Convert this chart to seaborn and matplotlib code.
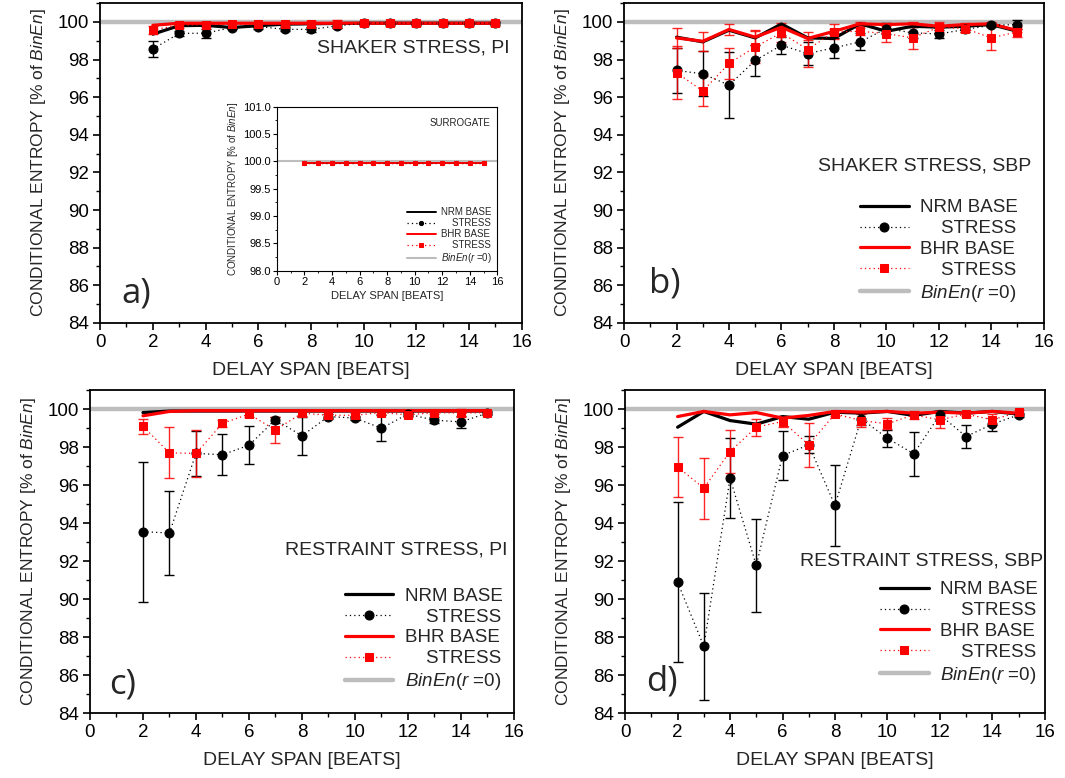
import matplotlib
matplotlib.use("Agg")
import matplotlib.pyplot as plt
import seaborn as sns
import pandas as pd
from matplotlib.ticker import MultipleLocator, FormatStrFormatter

# ---------------- data ----------------
delay = [2, 3, 4, 5, 6, 7, 8, 9, 10, 11, 12, 13, 14, 15]

# a) shaker stress, PI
a_nrm_base = [99.35, 99.8, 99.82, 99.7, 99.8, 99.88, 99.9, 99.92, 99.93, 99.93, 99.93, 99.93, 99.93, 99.93]
a_nrm_stress = [98.56, 99.39, 99.4, 99.7, 99.75, 99.61, 99.6, 99.79, 99.93, 99.93, 99.93, 99.93, 99.93, 99.93]
a_nrm_stress_err = [0.45, 0.15, 0.25, 0.1, 0.1, 0.1, 0.12, 0.1, 0.08, 0.08, 0.08, 0.08, 0.08, 0.08]
a_bhr_base = [99.82, 99.93, 99.93, 99.93, 99.93, 99.93, 99.93, 99.93, 99.93, 99.93, 99.93, 99.93, 99.93, 99.93]
a_bhr_stress = [99.58, 99.82, 99.86, 99.88, 99.9, 99.9, 99.9, 99.9, 99.92, 99.92, 99.92, 99.92, 99.92, 99.92]
a_bhr_stress_err = [0.2, 0.12, 0.12, 0.12, 0.12, 0.12, 0.15, 0.2, 0.15, 0.12, 0.12, 0.12, 0.12, 0.12]

# b) shaker stress, SBP
b_nrm_base = [99.19, 98.94, 99.56, 99.15, 99.89, 99.15, 99.12, 99.9, 99.5, 99.77, 99.72, 99.77, 99.86, 99.5]
b_nrm_stress = [97.42, 97.24, 96.64, 97.95, 98.76, 98.32, 98.62, 98.94, 99.65, 99.42, 99.36, 99.6, 99.82, 99.86]
b_nrm_stress_err = [1.22, 1.2, 1.77, 0.8, 0.45, 0.6, 0.55, 0.45, 0.3, 0.3, 0.2, 0.15, 0.1, 0.25]
b_bhr_base = [99.15, 98.97, 99.6, 99.19, 99.72, 99.12, 99.5, 99.9, 99.86, 99.9, 99.77, 99.86, 99.9, 99.54]
b_bhr_base_err = [0.53, 0.5, 0.27, 0.4, 0.1, 0.1, 0.1, 0.1, 0.1, 0.1, 0.1, 0.1, 0.1, 0.1]
b_bhr_stress = [97.3, 96.33, 97.79, 98.67, 99.42, 98.53, 99.47, 99.5, 99.38, 99.15, 99.72, 99.65, 99.15, 99.47]
b_bhr_stress_err = [1.41, 0.8, 0.83, 0.85, 0.5, 0.95, 0.4, 0.2, 0.45, 0.6, 0.25, 0.2, 0.65, 0.25]

# c) restraint stress, PI
c_nrm_base = [99.82, 99.9, 99.9, 99.9, 99.9, 99.9, 99.9, 99.9, 99.9, 99.9, 99.9, 99.9, 99.9, 99.9]
c_nrm_stress = [93.55, 93.48, 97.67, 97.6, 98.1, 99.44, 98.6, 99.61, 99.53, 99.0, 99.74, 99.42, 99.33, 99.79]
c_nrm_stress_err = [3.68, 2.19, 1.2, 1.08, 1.0, 0.15, 1.0, 0.15, 0.1, 0.7, 0.1, 0.15, 0.3, 0.1]
c_bhr_base = [99.65, 99.88, 99.92, 99.92, 99.92, 99.92, 99.92, 99.92, 99.92, 99.92, 99.92, 99.92, 99.92, 99.92]
c_bhr_stress = [99.09, 97.7, 97.67, 99.25, 99.74, 98.9, 99.79, 99.68, 99.68, 99.82, 99.7, 99.82, 99.79, 99.82]
c_bhr_stress_err = [0.4, 1.34, 1.25, 0.2, 0.15, 0.67, 0.15, 0.15, 0.1, 0.1, 0.1, 0.05, 0.2, 0.05]

# d) restraint stress, SBP
d_nrm_base = [99.05, 99.88, 99.4, 99.21, 99.61, 99.47, 99.84, 99.79, 99.88, 99.67, 99.88, 99.79, 99.88, 99.74]
d_nrm_stress = [90.89, 87.51, 96.37, 91.77, 97.56, 98.12, 94.93, 99.49, 98.47, 97.65, 99.7, 98.56, 99.21, 99.7]
d_nrm_stress_err = [4.2, 2.8, 2.1, 2.43, 1.3, 0.45, 2.15, 0.3, 0.45, 1.17, 0.2, 0.58, 0.35, 0.1]
d_bhr_base = [99.61, 99.88, 99.7, 99.82, 99.53, 99.67, 99.88, 99.84, 99.88, 99.79, 99.84, 99.79, 99.88, 99.79]
d_bhr_stress = [96.96, 95.84, 97.77, 99.05, 99.35, 98.12, 99.75, 99.4, 99.23, 99.7, 99.44, 99.74, 99.44, 99.84]
d_bhr_stress_err = [1.56, 1.61, 1.12, 0.45, 0.3, 1.14, 0.1, 0.35, 0.3, 0.2, 0.45, 0.1, 0.3, 0.1]

# inset: surrogate
s_nrm_base = [99.97, 99.97, 99.97, 99.97, 99.97, 99.97, 99.97, 99.97, 99.97, 99.97, 99.97, 99.97, 99.97, 99.97]
s_nrm_stress = [99.97, 99.97, 99.97, 99.97, 99.97, 99.97, 99.97, 99.97, 99.97, 99.97, 99.97, 99.97, 99.97, 99.97]
s_bhr_base = [99.97, 99.97, 99.97, 99.97, 99.97, 99.97, 99.97, 99.97, 99.97, 99.97, 99.97, 99.97, 99.97, 99.97]
s_bhr_stress = [99.97, 99.97, 99.97, 99.97, 99.97, 99.97, 99.97, 99.97, 99.97, 99.97, 99.97, 99.97, 99.97, 99.97]

binen_level = 100.0

panel_titles = ["SHAKER STRESS, PI", "SHAKER STRESS, SBP", "RESTRAINT STRESS, PI", "RESTRAINT STRESS, SBP"]
panel_letters = ["a)", "b)", "c)", "d)"]
legend_labels = ["NRM BASE", "    STRESS", "BHR BASE", "    STRESS", r"$\it{BinEn}$($\it{r}$ =0)"]
xlabel = "DELAY SPAN [BEATS]"
ylabel = r"CONDITIONAL ENTROPY [% of $\it{BinEn}$]"

# ---------------- style ----------------
sns.set_style("ticks")
plt.rcParams["font.family"] = ["Liberation Sans", "DejaVu Sans"]
plt.rcParams["mathtext.fontset"] = "custom"
plt.rcParams["mathtext.rm"] = "Liberation Sans"
plt.rcParams["mathtext.it"] = "Liberation Sans:italic"
plt.rcParams["axes.edgecolor"] = "black"
plt.rcParams["axes.linewidth"] = 1.3
plt.rcParams["xtick.color"] = "black"
plt.rcParams["ytick.color"] = "black"

RED = "#ff0000"
GRAY = "#bdbdbd"

fig = plt.figure(figsize=(10.65, 7.78), dpi=100)

positions = [
    [0.094, 0.585, 0.396, 0.411],
    [0.586, 0.585, 0.394, 0.411],
    [0.0845, 0.0835, 0.398, 0.415],
    [0.587, 0.0835, 0.394, 0.415],
]

panels = [
    (a_nrm_base, None, a_nrm_stress, a_nrm_stress_err, a_bhr_base, None, a_bhr_stress, a_bhr_stress_err),
    (b_nrm_base, None, b_nrm_stress, b_nrm_stress_err, b_bhr_base, b_bhr_base_err, b_bhr_stress, b_bhr_stress_err),
    (c_nrm_base, None, c_nrm_stress, c_nrm_stress_err, c_bhr_base, None, c_bhr_stress, c_bhr_stress_err),
    (d_nrm_base, None, d_nrm_stress, d_nrm_stress_err, d_bhr_base, None, d_bhr_stress, d_bhr_stress_err),
]

title_pos = [(0.97, 0.86), (0.97, 0.49), (0.985, 0.505), (0.995, 0.47)]
letter_pos = [(0.05, 0.04), (0.06, 0.07), (0.045, 0.035), (0.05, 0.045)]
legend_anchor = [None, (0.965, 0.025), (1.0, 0.03), (1.01, 0.05)]


def draw(ax, nb, nb_err, ns, ns_err, bb, bb_err, bs, bs_err, small=False):
    lw_base = 1.4 if small else 2.3
    ms_c = 3 if small else 6.5
    ms_s = 3 if small else 6
    h_gray = ax.axhline(binen_level, color=GRAY, lw=(1.5 if small else 3.2), zorder=1)
    df = pd.DataFrame({"delay": delay, "nb": nb, "ns": ns, "bb": bb, "bs": bs})
    if ns_err is not None:
        ax.errorbar(delay, ns, yerr=ns_err, fmt="none", ecolor="black", elinewidth=1.0,
                    capsize=3.5, capthick=1.0, zorder=2)
    if bs_err is not None:
        ax.errorbar(delay, bs, yerr=bs_err, fmt="none", ecolor=RED, elinewidth=1.0,
                    capsize=3.5, capthick=1.0, zorder=2, alpha=0.85)
    if bb_err is not None:
        ax.errorbar(delay, bb, yerr=bb_err, fmt="none", ecolor=RED, elinewidth=1.0,
                    capsize=3.5, capthick=1.0, zorder=2, alpha=0.85)
    sns.lineplot(data=df, x="delay", y="nb", ax=ax, color="black", lw=lw_base, zorder=4)
    sns.lineplot(data=df, x="delay", y="ns", ax=ax, color="black", lw=0.9, ls=(0, (1, 2.5)),
                 marker="o", markersize=ms_c, markeredgecolor="black", markerfacecolor="black", zorder=5)
    sns.lineplot(data=df, x="delay", y="bb", ax=ax, color=RED, lw=lw_base, zorder=4)
    sns.lineplot(data=df, x="delay", y="bs", ax=ax, color=RED, lw=0.9, ls=(0, (1, 2.5)),
                 marker="s", markersize=ms_s, markeredgecolor=RED, markerfacecolor=RED, zorder=5)
    lines = ax.get_lines()
    handles = [lines[-4], lines[-3], lines[-2], lines[-1], h_gray]
    return handles


for i, pos in enumerate(positions):
    ax = fig.add_axes(pos)
    nb, nb_err, ns, ns_err, bb, bb_err, bs, bs_err = panels[i]
    handles = draw(ax, nb, nb_err, ns, ns_err, bb, bb_err, bs, bs_err)
    ax.set_xlim(0, 16)
    ax.set_ylim(84, 101)
    ax.xaxis.set_major_locator(MultipleLocator(2))
    ax.xaxis.set_minor_locator(MultipleLocator(1))
    ax.yaxis.set_major_locator(MultipleLocator(2))
    ax.yaxis.set_minor_locator(MultipleLocator(1))
    ax.tick_params(which="major", direction="out", length=5, width=1.2, labelsize=13.5, pad=3)
    ax.tick_params(which="minor", direction="out", length=3, width=1.0)
    ax.set_xlabel(xlabel, fontsize=14, labelpad=8)
    ax.set_ylabel(ylabel, fontsize=12.5, labelpad=7)
    for s in ax.spines.values():
        s.set_visible(True)
        s.set_linewidth(1.3)
    ax.text(title_pos[i][0], title_pos[i][1], panel_titles[i], transform=ax.transAxes,
            ha="right", va="center", fontsize=14)
    ax.text(letter_pos[i][0], letter_pos[i][1], panel_letters[i], transform=ax.transAxes,
            ha="left", va="bottom", fontsize=25, family=["Open Sans", "DejaVu Sans"])
    if legend_anchor[i] is not None:
        ax.legend(handles, legend_labels, loc="lower right", bbox_to_anchor=legend_anchor[i],
                  frameon=False, fontsize=13.5, handlelength=2.6, labelspacing=0.2,
                  handletextpad=0.6, borderaxespad=0.2)
    else:
        leg = ax.get_legend()
        if leg is not None:
            leg.remove()

# inset in panel a
axi = fig.add_axes([0.260, 0.652, 0.207, 0.211])
hi = draw(axi, s_nrm_base, None, s_nrm_stress, None, s_bhr_base, None, s_bhr_stress, None, small=True)
axi.set_xlim(0, 16)
axi.set_ylim(98, 101)
axi.xaxis.set_major_locator(MultipleLocator(2))
axi.xaxis.set_minor_locator(MultipleLocator(1))
axi.yaxis.set_major_locator(MultipleLocator(0.5))
axi.yaxis.set_minor_locator(MultipleLocator(0.25))
axi.yaxis.set_major_formatter(FormatStrFormatter("%.1f"))
axi.tick_params(which="major", direction="out", length=3, width=0.8, labelsize=8, pad=1.5)
axi.tick_params(which="minor", direction="out", length=1.5, width=0.6)
for s in axi.spines.values():
    s.set_linewidth(0.8)
axi.set_xlabel(xlabel, fontsize=8, labelpad=3)
axi.set_ylabel(ylabel, fontsize=7, labelpad=2)
axi.text(0.97, 0.9, "SURROGATE", transform=axi.transAxes, ha="right", va="center", fontsize=7)
axi.legend(hi, legend_labels, loc="lower right", frameon=False, fontsize=7,
           handlelength=3.0, labelspacing=0.1, handletextpad=0.5, borderaxespad=0.2)

fig.savefig("out.png", dpi=100)
